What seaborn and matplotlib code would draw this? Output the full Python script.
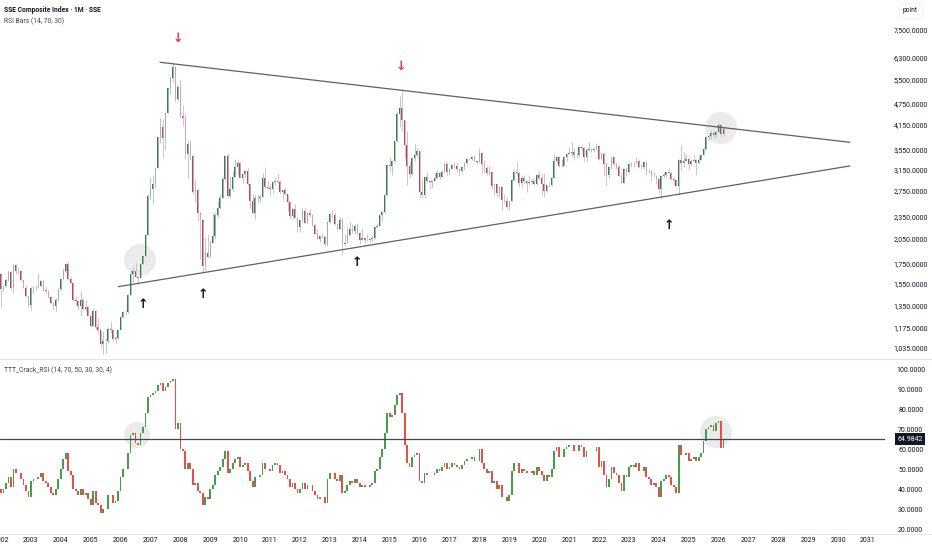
import numpy as np
import pandas as pd
import matplotlib
matplotlib.use("Agg")
import matplotlib.pyplot as plt
import seaborn as sns
from matplotlib.ticker import FixedLocator, NullLocator
from matplotlib.patches import Circle
from matplotlib.lines import Line2D

# ---- data (monthly, Jan 2002 .. Mar 2026) ----
first_year = 2002
first_open = 1646

price_close = [
    1491, 1524, 1580, 1661, 1508, 1732, 1672, 1670, 1581, 1507, 1434, 1357,
    1500, 1512, 1511, 1521, 1576, 1487, 1476, 1421, 1367, 1348, 1397, 1497,
    1590, 1675, 1742, 1595, 1555, 1399, 1386, 1342, 1396, 1320, 1340, 1266,
    1191, 1306, 1181, 1159, 1060, 1080, 1083, 1162, 1155, 1092, 1099, 1161,
    1258, 1299, 1298, 1440, 1641, 1672, 1612, 1601, 1752, 1837, 2099, 2675,
    2786, 2881, 3183, 3841, 4109, 3820, 4471, 5218, 5552, 5954, 4871, 5262,
    4383, 4348, 3473, 3693, 3433, 2736, 2775, 2397, 2293, 1729, 1871, 1821,
    1991, 2082, 2373, 2477, 2632, 2959, 3412, 2667, 2779, 2996, 3195, 3277,
    2989, 3051, 3110, 2871, 2592, 2398, 2638, 2638, 2656, 2979, 2820, 2808,
    2790, 2905, 2928, 2911, 2743, 2762, 2701, 2567, 2359, 2468, 2333, 2199,
    2292, 2428, 2262, 2397, 2373, 2225, 2103, 2047, 2086, 2069, 1980, 2269,
    2385, 2365, 2237, 2178, 2301, 1979, 1994, 2098, 2175, 2141, 2220, 2116,
    2033, 2056, 2033, 2026, 2039, 2048, 2201, 2218, 2364, 2420, 2683, 3235,
    3210, 3310, 3748, 4441, 4612, 4277, 3664, 3206, 3053, 3383, 3445, 3539,
    2738, 2688, 3004, 2938, 2917, 2930, 2979, 3085, 3005, 3100, 3250, 3104,
    3159, 3242, 3223, 3155, 3117, 3192, 3273, 3361, 3349, 3393, 3317, 3307,
    3481, 3259, 3169, 3082, 3095, 2847, 2876, 2725, 2821, 2603, 2588, 2494,
    2585, 2941, 3091, 3078, 2899, 2979, 2933, 2886, 2905, 2929, 2872, 3050,
    2977, 2880, 2750, 2860, 2852, 2985, 3310, 3396, 3218, 3225, 3392, 3473,
    3483, 3509, 3442, 3447, 3615, 3591, 3397, 3544, 3568, 3547, 3564, 3640,
    3361, 3462, 3252, 3047, 3186, 3399, 3253, 3202, 3024, 2893, 3151, 3089,
    3256, 3280, 3273, 3323, 3205, 3202, 3291, 3120, 3110, 3019, 3030, 2975,
    2789, 3015, 3041, 3105, 3087, 2967, 2939, 2842, 3336, 3279, 3326, 3352,
    3250, 3321, 3336, 3279, 3347, 3444, 3573, 3858, 3883, 3955, 3889, 3969,
    4140, 3930, 4060,
]

price_high = [
    1646, 1530, 1600, 1680, 1668, 1750, 1748, 1716, 1670, 1580, 1530, 1440,
    1512, 1525, 1530, 1649, 1580, 1580, 1510, 1490, 1430, 1380, 1410, 1500,
    1600, 1700, 1760, 1783, 1610, 1560, 1420, 1400, 1480, 1410, 1400, 1345,
    1270, 1330, 1310, 1250, 1160, 1150, 1100, 1180, 1225, 1160, 1110, 1165,
    1260, 1305, 1310, 1445, 1680, 1710, 1757, 1620, 1760, 1840, 2100, 2700,
    2994, 3050, 3200, 3860, 4335, 4300, 4480, 5220, 5560, 6124, 5914, 5320,
    5523, 4696, 4472, 3787, 3786, 3460, 2952, 2800, 2333, 2300, 2050, 2100,
    2030, 2402, 2400, 2579, 2708, 3000, 3454, 3478, 3000, 3123, 3361, 3338,
    3306, 3060, 3130, 3181, 2890, 2700, 2680, 2700, 2700, 3072, 3186, 2950,
    2867, 2930, 3000, 3067, 2950, 2770, 2827, 2700, 2580, 2480, 2537, 2340,
    2300, 2478, 2478, 2400, 2453, 2380, 2240, 2170, 2090, 2115, 2090, 2276,
    2400, 2444, 2420, 2260, 2334, 2320, 2100, 2200, 2270, 2240, 2240, 2250,
    2120, 2180, 2060, 2100, 2050, 2090, 2210, 2249, 2370, 2440, 2690, 3240,
    3406, 3330, 3750, 4500, 4960, 5178, 4200, 4000, 3300, 3400, 3680, 3600,
    3540, 2950, 3020, 3097, 2970, 2950, 3070, 3140, 3100, 3130, 3300, 3300,
    3174, 3260, 3300, 3300, 3150, 3200, 3300, 3370, 3390, 3420, 3450, 3320,
    3587, 3500, 3330, 3220, 3220, 3100, 2900, 2900, 2830, 2800, 2700, 2660,
    2600, 2950, 3130, 3288, 3100, 3050, 3050, 2950, 3050, 2990, 2960, 3060,
    3127, 3060, 3074, 2860, 2910, 3000, 3458, 3420, 3420, 3350, 3420, 3480,
    3630, 3731, 3600, 3490, 3630, 3650, 3620, 3590, 3723, 3600, 3600, 3708,
    3651, 3500, 3500, 3300, 3190, 3424, 3420, 3300, 3250, 3080, 3160, 3200,
    3270, 3300, 3300, 3400, 3350, 3250, 3300, 3322, 3150, 3120, 3090, 3050,
    2980, 3030, 3090, 3110, 3174, 3100, 3000, 2940, 3358, 3674, 3500, 3460,
    3400, 3350, 3440, 3350, 3420, 3460, 3620, 3880, 3900, 4030, 4000, 3990,
    4200, 4180, 4120,
]

price_low = [
    1339, 1477, 1510, 1570, 1490, 1455, 1640, 1638, 1576, 1502, 1426, 1340,
    1311, 1460, 1480, 1500, 1510, 1480, 1460, 1410, 1360, 1316, 1307, 1390,
    1490, 1580, 1660, 1580, 1540, 1390, 1350, 1320, 1260, 1310, 1300, 1260,
    1177, 1190, 1160, 1130, 1040, 998, 1004, 1070, 1140, 1080, 1070, 1095,
    1160, 1245, 1270, 1290, 1430, 1560, 1600, 1540, 1600, 1750, 1830, 2090,
    2600, 2540, 2800, 3170, 3700, 3400, 3560, 4460, 5040, 5440, 4778, 4812,
    4330, 4123, 3357, 2990, 3333, 2693, 2566, 2284, 1802, 1664, 1678, 1814,
    1844, 1990, 2037, 2335, 2460, 2630, 2950, 2639, 2639, 2760, 2980, 3039,
    2986, 2890, 2990, 2861, 2481, 2382, 2319, 2560, 2567, 2650, 2800, 2780,
    2661, 2722, 2850, 2900, 2700, 2610, 2690, 2437, 2307, 2307, 2330, 2134,
    2132, 2280, 2242, 2250, 2340, 2220, 2100, 2040, 2000, 2060, 1950, 1949,
    2250, 2320, 2230, 2161, 2170, 1849, 1950, 1990, 2080, 2120, 2100, 2100,
    1984, 2030, 1974, 2010, 1991, 2010, 2040, 2190, 2210, 2290, 2400, 2660,
    3096, 3050, 3300, 3740, 4110, 4000, 3373, 2850, 2983, 3050, 3320, 3400,
    2638, 2638, 2640, 2900, 2780, 2800, 2930, 2960, 2970, 3000, 3100, 3045,
    3044, 3150, 3170, 3100, 3016, 3080, 3150, 3230, 3330, 3330, 3300, 3250,
    3300, 3062, 3090, 3041, 3040, 2780, 2690, 2650, 2645, 2449, 2560, 2462,
    2440, 2580, 2920, 3050, 2820, 2820, 2880, 2733, 2860, 2880, 2860, 2860,
    2950, 2685, 2646, 2730, 2820, 2840, 2980, 3270, 3200, 3200, 3210, 3320,
    3460, 3400, 3330, 3380, 3400, 3540, 3310, 3300, 3520, 3510, 3510, 3560,
    3330, 3360, 3023, 2863, 2990, 3160, 3220, 3150, 3020, 2885, 2885, 3020,
    3070, 3200, 3190, 3260, 3180, 3160, 3150, 3050, 3070, 2924, 3000, 2882,
    2724, 2635, 2990, 2995, 3080, 2950, 2860, 2815, 2689, 3130, 3200, 3300,
    3140, 3230, 3320, 3040, 3260, 3330, 3440, 3560, 3770, 3810, 3820, 3820,
    3960, 3850, 3880,
]

rsi_first_open = 40
rsi_close = [
    38, 40, 43, 46, 41, 50, 48, 48, 45, 42, 39, 36,
    44, 45, 45, 46, 48, 44, 43, 41, 38, 37, 40, 45,
    50, 55, 58, 49, 47, 40, 39, 37, 40, 37, 38, 35,
    32, 39, 33, 32, 28, 30, 30, 37, 37, 33, 34, 39,
    46, 50, 50, 58, 67, 68, 63, 62, 68, 71, 78, 86,
    87, 88, 89, 92, 93, 89, 91, 93, 94, 95, 70, 73,
    60, 59, 50, 53, 50, 42, 43, 39, 38, 32, 36, 35,
    40, 42, 47, 49, 51, 55, 59, 48, 50, 53, 55, 56,
    51, 52, 53, 49, 44, 41, 46, 46, 47, 53, 50, 50,
    49, 52, 53, 52, 48, 49, 47, 45, 41, 43, 40, 38,
    40, 43, 40, 42, 42, 39, 37, 35, 36, 36, 33, 45,
    48, 48, 45, 44, 47, 38, 39, 42, 44, 43, 45, 43,
    41, 42, 41, 41, 42, 43, 49, 50, 56, 60, 68, 78,
    76, 77, 82, 87, 88, 78, 62, 53, 51, 56, 57, 58,
    44, 43, 48, 47, 47, 47, 48, 50, 49, 51, 53, 50,
    51, 53, 52, 51, 50, 52, 54, 55, 55, 56, 54, 54,
    60, 53, 50, 48, 49, 43, 44, 40, 42, 36, 36, 34,
    37, 49, 53, 53, 48, 50, 49, 48, 48, 49, 47, 51,
    49, 47, 44, 47, 46, 50, 59, 61, 56, 56, 60, 61,
    62, 62, 59, 59, 62, 61, 56, 59, 59, 59, 59, 61,
    51, 54, 47, 41, 45, 51, 48, 47, 43, 39, 47, 46,
    51, 52, 51, 53, 49, 49, 51, 46, 45, 42, 43, 41,
    36, 44, 45, 47, 46, 42, 41, 38, 62, 57, 57, 58,
    54, 55, 56, 54, 56, 58, 64, 70, 71, 72, 69, 73,
    74, 60.5, 64.9842,
]
rsi_last = 64.9842

price_ticks = [1035, 1175, 1350, 1550, 1750, 2050, 2350, 2750, 3150, 3550,
               4150, 4750, 5500, 6300, 7500]
rsi_ticks = [20, 30, 40, 50, 60, 70, 80, 90, 100]
years = list(range(2002, 2032))

# triangle drawn on the chart: (month index, price)
upper_line_x = [63.8, 340.7]
upper_line_y = [6134, 3727]
lower_line_x = [47.1, 340.7]
lower_line_y = [1517, 3217]

assert len(price_close) == len(price_high) == len(price_low) == len(rsi_close)

# ---- figure ----
sns.set_theme(style="white")
plt.rcParams['font.family'] = ['Roboto', 'DejaVu Sans']

W, H = 932, 550
fig = plt.figure(figsize=(W / 100, H / 100), dpi=100, facecolor="white")
txt = "#131722"
grid_c = "#e0e3eb"

def px_rect(x0, y0, x1, y1):
    return [x0 / W, 1 - y1 / H, (x1 - x0) / W, (y1 - y0) / H]

# overlay for free-hand marks (highlight circles), behind the candles
ov = fig.add_axes([0, 0, 1, 1], zorder=0)
ov.set_xlim(0, W)
ov.set_ylim(H, 0)
ov.axis("off")

ax = fig.add_axes(px_rect(0, 0, 885, 358), zorder=1)
ax2 = fig.add_axes(px_rect(0, 360, 885, 533), zorder=1)
for a in (ax, ax2):
    a.patch.set_alpha(0)
    for s in a.spines.values():
        s.set_visible(False)

idx = np.arange(len(price_close))
c = np.array(price_close, float)
o = np.r_[first_open, c[:-1]]
hi = np.maximum(np.array(price_high, float), np.maximum(o, c))
lo = np.minimum(np.array(price_low, float), np.minimum(o, c))
up = c >= o

ax.vlines(idx[up], lo[up], hi[up], color="#a9c4b4", lw=0.6)
ax.vlines(idx[~up], lo[~up], hi[~up], color="#dcb3bd", lw=0.6)
ax.bar(idx[up], (c - o)[up], bottom=o[up], width=0.62, color="#3b7a57", lw=0)
ax.bar(idx[~up], (o - c)[~up], bottom=c[~up], width=0.62, color="#b04a62", lw=0)

tri = pd.DataFrame({
    "x": upper_line_x + lower_line_x,
    "y": upper_line_y + lower_line_y,
    "side": ["upper", "upper", "lower", "lower"],
})
sns.lineplot(data=tri, x="x", y="y", units="side", estimator=None, sort=False,
             color="#5d606b", lw=0.9, ax=ax)

ax.set_yscale("log")
ax.set_ylim(973, 9040)
ax.set_xlim(-0.4, 354.8)
ax.yaxis.set_major_locator(FixedLocator(price_ticks))
ax.yaxis.set_minor_locator(NullLocator())
ax.set_yticklabels([f"{v:,.4f}" for v in price_ticks])
ax.yaxis.tick_right()
ax.set_xticks([])
ax.set_xlabel("")
ax.set_ylabel("")

# RSI bars
rc = np.array(rsi_close, float)
ro = np.r_[rsi_first_open, rc[:-1]]
rup = rc >= ro
ax2.bar(idx[rup], (rc - ro)[rup], bottom=ro[rup], width=0.7, color="#43a047", lw=0)
ax2.bar(idx[~rup], (ro - rc)[~rup], bottom=rc[~rup], width=0.7, color="#ef4b4b", lw=0)
ax2.axhline(rsi_last, color="#434651", lw=0.9)
ax2.set_ylim(18, 104.5)
ax2.set_xlim(-0.4, 354.8)
ax2.yaxis.set_major_locator(FixedLocator(rsi_ticks))
ax2.set_yticklabels([f"{v:.4f}" for v in rsi_ticks])
ax2.yaxis.tick_right()
ax2.set_xticks([(y - first_year) * 12 for y in years])
ax2.set_xticklabels([str(y) for y in years])

for a in (ax, ax2):
    a.tick_params(axis="y", length=0, pad=18.5, labelsize=5, labelcolor=txt)
    for lab in a.get_yticklabels():
        lab.set_horizontalalignment("center")
ax2.tick_params(axis="x", length=0, pad=3, labelsize=5, labelcolor=txt)

ax2.text(910 / 885, rsi_last, f"{rsi_last:.4f}", transform=ax2.get_yaxis_transform(),
         ha="center", va="center", color="white", fontsize=5, clip_on=False,
         bbox=dict(boxstyle="square,pad=0.3", fc="#131722", ec="none"))

# pane separators and scale label
fig.add_artist(Line2D([0, 1], [1 - 359 / H] * 2, color=grid_c, lw=0.8))
fig.add_artist(Line2D([0, 1], [1 - 533.5 / H] * 2, color=grid_c, lw=0.6))
fig.text(910 / W, 1 - 10 / H, "point", ha="center", va="center", fontsize=4.8, color=txt,
         bbox=dict(boxstyle="square,pad=0.6", fc="white", ec="#f0f1f4", lw=0.6))

# titles
fig.text(4 / W, 1 - 10.5 / H, "SSE Composite Index · 1M · SSE", fontsize=4.9,
         fontweight="semibold", color=txt, va="center")
fig.text(4 / W, 1 - 21.5 / H, "RSI Bars (14, 70, 30)", fontsize=4.9, color="#434651", va="center")
fig.text(4 / W, 1 - 370.5 / H, "TTT_Crack_RSI (14, 70, 50, 30, 30, 4)", fontsize=4.9,
         color="#434651", va="center")

# highlight circles
for (cx, cy, r) in [(140, 260, 16), (721, 128, 16), (137, 435, 13), (716, 432, 16)]:
    ov.add_patch(Circle((cx, cy), r, fc="#dcdcdc", ec="none", alpha=0.55))

# arrows
for (x, y) in [(178, 38), (401, 67)]:
    fig.text(x / W, 1 - y / H, "↓", ha="center", va="center", fontsize=9,
             fontweight="bold", color="#f23645", family="DejaVu Sans", zorder=5)
for (x, y) in [(143, 305), (203, 295), (357, 262), (669, 225)]:
    fig.text(x / W, 1 - y / H, "↑", ha="center", va="center", fontsize=9,
             fontweight="bold", color="#131722", family="DejaVu Sans", zorder=5)

fig.savefig("out.png", dpi=100, facecolor="white")
